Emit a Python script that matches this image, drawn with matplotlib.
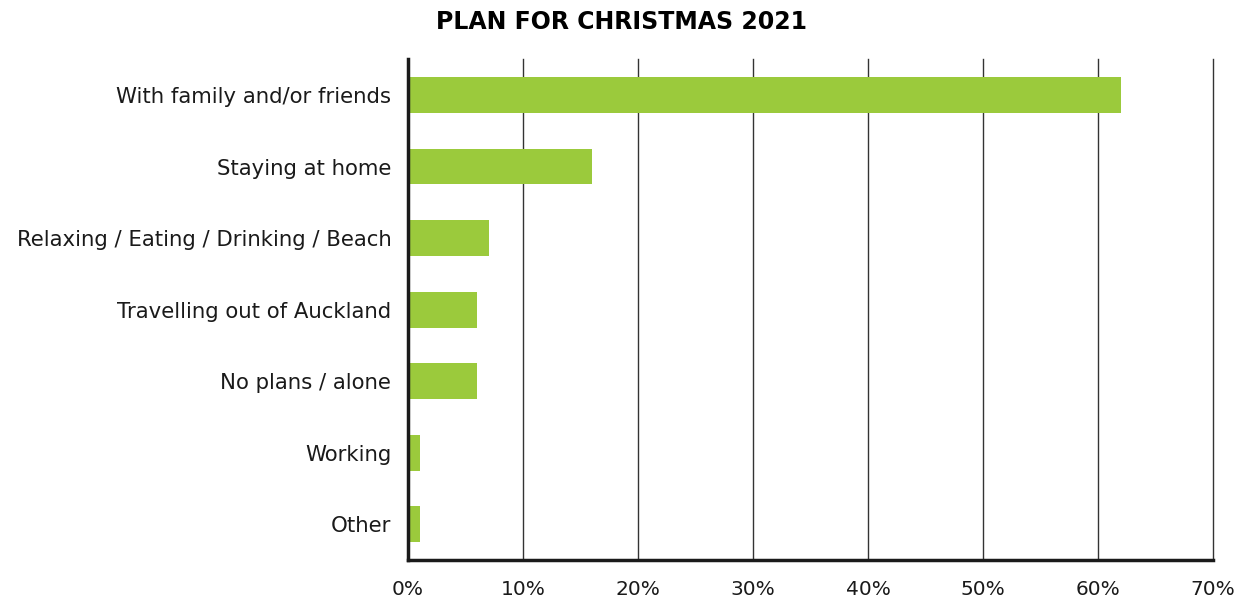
import matplotlib
matplotlib.use("Agg")
import matplotlib.pyplot as plt
from matplotlib.ticker import PercentFormatter

categories = ["With family and/or friends", "Staying at home",
              "Relaxing / Eating / Drinking / Beach", "Travelling out of Auckland",
              "No plans / alone", "Working", "Other"]
values = [62, 16, 7, 6, 6, 1, 1]
xticks = [0, 10, 20, 30, 40, 50, 60, 70]

plt.rcParams['font.family'] = ['DejaVu Sans']

fig = plt.figure(figsize=(12.44, 5.99), dpi=100)
ax = fig.add_axes([0.328, 0.065, 0.647, 0.836])

ypos = list(range(len(categories)))
ax.barh(ypos, values, height=0.5, color='#9bca3c', zorder=3)
ax.set_yticks(ypos)
ax.set_yticklabels(categories, fontsize=15.3, color='#1a1a1a')
ax.set_ylim(6.5, -0.5)
ax.set_xlim(0, 70)
ax.set_xticks(xticks)
ax.xaxis.set_major_formatter(PercentFormatter(decimals=0))
ax.tick_params(axis='x', length=0, pad=14, labelsize=14.5, labelcolor='#1a1a1a')
ax.tick_params(axis='y', length=0, pad=12)
ax.grid(axis='x', color='#333333', linewidth=1, zorder=0)
for gl in ax.get_xgridlines():
    gl.set_clip_on(False)

for side in ['top', 'right']:
    ax.spines[side].set_visible(False)
for side in ['left', 'bottom']:
    ax.spines[side].set_linewidth(2.5)
    ax.spines[side].set_color('#1a1a1a')
    ax.spines[side].set_zorder(4)

fig.text(0.5, 0.963, "PLAN FOR CHRISTMAS 2021", ha='center', va='center',
         fontsize=17, fontweight='bold')

fig.savefig("out.png", dpi=100)
